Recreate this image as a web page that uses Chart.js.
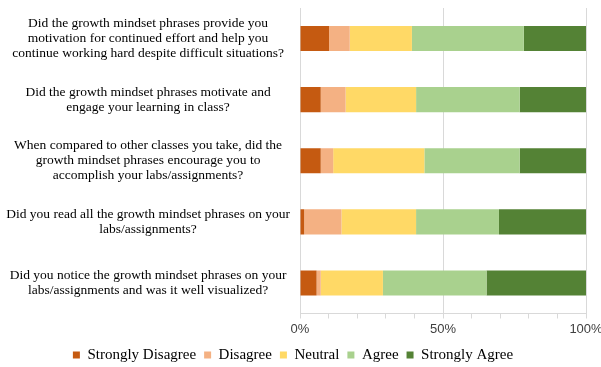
<!DOCTYPE html>
<html>
<head>
<meta charset="utf-8">
<script src="https://cdn.jsdelivr.net/npm/chart.js@4"></script>
<style>
  body { margin: 0; background: #fff; }
  #wrap { width: 601px; height: 367px; }
</style>
</head>
<body>
<div id="wrap"><canvas id="chart" width="601" height="367"></canvas></div>
<script>
// survey questions (one per bar)
const questions = [
    ['Did the growth mindset phrases provide you', 'motivation for continued effort and help you', 'continue working hard despite difficult situations?'],
    ['Did the growth mindset phrases motivate and', 'engage your learning in class?'],
    ['When compared to other classes you take, did the', 'growth mindset phrases encourage you to', 'accomplish your labs/assignments?'],
    ['Did you read all the growth mindset phrases on your', 'labs/assignments?'],
    ['Did you notice the growth mindset phrases on your', 'labs/assignments and was it well visualized?']
];

// share of answers, in percent
const stronglyDisagree = [10.14, 7.25, 7.25, 1.45, 5.80];
const disagree = [7.25, 8.70, 4.35, 13.04, 1.45];
const neutral = [21.74, 24.64, 31.88, 26.09, 21.74];
const agree = [39.13, 36.23, 33.33, 28.99, 36.23];
const stronglyAgree = [21.74, 23.18, 23.19, 30.43, 34.78];

const seriesNames = ['Strongly Disagree', 'Disagree', 'Neutral', 'Agree', 'Strongly Agree'];
const seriesColors = ['#C55A11', '#F4B183', '#FFD966', '#A9D18E', '#548235'];
const seriesValues = [stronglyDisagree, disagree, neutral, agree, stronglyAgree];

const gridGray = '#d9d9d9';
const serif = '"Liberation Serif", "Times New Roman", serif';

Chart.defaults.font.family = serif;
Chart.defaults.color = '#000';

const ctx = document.getElementById('chart').getContext('2d');
new Chart(ctx, {
    type: 'bar',
    data: {
        labels: questions,
        datasets: seriesNames.map((name, i) => ({
            label: name,
            data: seriesValues[i],
            backgroundColor: seriesColors[i],
            borderWidth: 0,
            barPercentage: 0.41,
            categoryPercentage: 1
        }))
    },
    options: {
        indexAxis: 'y',
        responsive: false,
        animation: false,
        layout: { padding: { top: 8, right: 15, left: 0, bottom: -5.5 } },
        plugins: {
            tooltip: { enabled: false },
            legend: {
                position: 'bottom',
                labels: {
                    font: { family: serif, size: 15, lineHeight: 1 },
                    color: '#000',
                    boxWidth: 7,
                    boxHeight: 7,
                    padding: 8
                }
            }
        },
        scales: {
            x: {
                stacked: true,
                min: 0,
                max: 100,
                border: { color: gridGray },
                grid: {
                    color: c => (c.tick && c.tick.value % 50 === 0) ? gridGray : 'rgba(0,0,0,0)',
                    tickColor: gridGray,
                    tickLength: 5
                },
                afterFit: scale => { scale.paddingLeft = 0; scale.paddingRight = 0; },
                ticks: {
                    stepSize: 10,
                    autoSkip: false,
                    maxRotation: 0,
                    padding: 4,
                    color: '#404040',
                    font: { family: '"Liberation Sans", Arial, sans-serif', size: 13, lineHeight: 1 },
                    callback: v => (v % 50 === 0 ? v + '%' : '')
                }
            },
            y: {
                stacked: true,
                border: { display: false },
                grid: { display: false, drawTicks: false },
                afterFit: scale => {
                    scale.width = 300;
                    scale.paddingTop = 0;
                    scale.paddingBottom = 0;
                },
                ticks: {
                    crossAlign: 'center',
                    padding: 10,
                    color: '#000',
                    font: { family: serif, size: 13.5, lineHeight: 1.1 }
                }
            }
        }
    }
});
</script>
</body>
</html>
